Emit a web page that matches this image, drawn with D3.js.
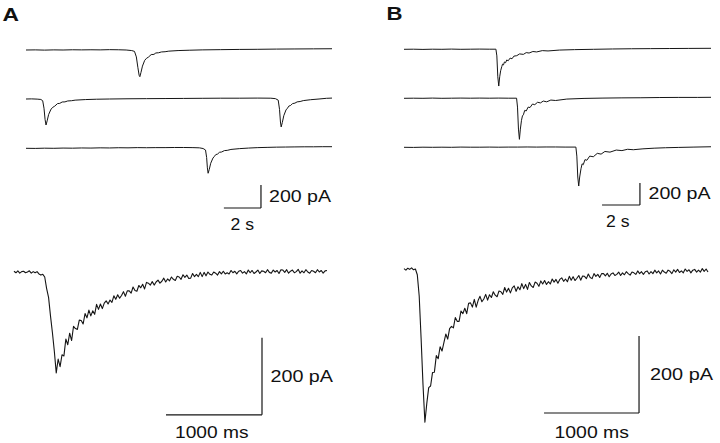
<!DOCTYPE html>
<html><head><meta charset="utf-8">
<script src="https://cdn.jsdelivr.net/npm/d3@7"></script>
<style>html,body{margin:0;padding:0;background:#fff;} svg{display:block;font-family:"Liberation Sans",Arial,sans-serif;}</style>
</head><body><svg id="c" width="720" height="443"></svg>
<script>
// ---------- DATA (time in s for top traces, ms for bottom traces; current in pA) ----------
const topA1 = [[0,0],[0.5,1],[1,-1],[1.5,1],[2,0],[2.5,2],[3,1],[3.5,2],[4,1],[4.5,3],[5,2],[5.4,0],[5.7,-5],[5.85,-12],[5.95,-60],[6.03,-150],[6.1,-220],[6.14,-232],[6.2,-195],[6.28,-140],[6.4,-90],[6.5,-72],[6.6,-62],[6.75,-40],[6.9,-38],[7.0,-26],[7.15,-24],[7.3,-17],[7.5,-15],[7.7,-10],[8.2,-5],[8.8,-2],[9.5,1],[10.5,3],[11.5,5],[12.5,6],[13.5,8],[14.5,9],[15.5,10],[16.5,11]];
const topA2 = [[0,0],[0.3,1],[0.6,-1],[0.8,-4],[0.9,-15],[0.97,-80],[1.03,-180],[1.08,-226],[1.14,-190],[1.22,-135],[1.35,-88],[1.45,-72],[1.55,-62],[1.7,-40],[1.82,-38],[1.95,-26],[2.1,-25],[2.25,-17],[2.45,-15],[2.65,-10],[3.2,-5],[3.8,-2],[4.5,0],[5.5,2],[6.5,3],[7.5,4],[8.5,5],[9.5,6],[10.5,7],[11.5,7],[12.5,8],[13.2,7],[13.45,3],[13.6,-10],[13.67,-90],[13.72,-200],[13.76,-243],[13.82,-205],[13.9,-145],[14.02,-95],[14.1,-80],[14.17,-62],[14.27,-56],[14.37,-40],[14.5,-36],[14.62,-25],[14.78,-22],[14.95,-14],[15.35,-6],[15.8,0],[16.2,6],[16.5,8]];
const topA3 = [[0,0],[0.5,-1],[1,1],[1.5,0],[2,2],[2.5,1],[3,3],[3.5,2],[4,4],[4.5,3],[5,5],[5.5,4],[6,6],[6.5,5],[7,6],[7.5,6],[8,7],[8.5,7],[9,6],[9.35,4],[9.55,-2],[9.68,-15],[9.74,-80],[9.78,-170],[9.82,-217],[9.88,-185],[9.96,-130],[10.08,-85],[10.15,-72],[10.23,-55],[10.33,-50],[10.43,-35],[10.55,-32],[10.7,-20],[10.85,-18],[11.05,-10],[11.5,-3],[12,2],[12.5,6],[13,8],[13.5,10],[14,11],[14.5,12],[15,13],[15.5,13],[16,14],[16.5,14]];

const topB1 = [[0,0],[0.5,1],[1,-1],[1.5,1],[2,0],[2.5,2],[3,0],[3.5,1],[4,2],[4.5,1],[4.85,1],[4.9,-60],[4.95,-250],[5.0,-334],[5.05,-250],[5.1,-195],[5.16,-157],[5.2,-135],[5.25,-142],[5.3,-115],[5.36,-122],[5.42,-97],[5.5,-104],[5.6,-80],[5.7,-86],[5.8,-62],[5.95,-58],[6.1,-42],[6.3,-46],[6.45,-30],[6.6,-34],[6.8,-20],[7.0,-24],[7.3,-12],[7.6,-15],[8.2,-7],[9,-3],[10,0],[11,3],[12,5],[13,6],[14,7],[15,8],[16.2,9]];
const topB2 = [[0,0],[0.5,1],[1,0],[1.5,2],[2,0],[2.5,1],[3,2],[3.5,1],[4,2],[4.5,1],[5,2],[5.5,1],[5.94,1],[5.99,-80],[6.04,-280],[6.09,-373],[6.14,-280],[6.2,-200],[6.25,-160],[6.3,-150],[6.37,-110],[6.45,-115],[6.55,-80],[6.65,-84],[6.78,-52],[6.9,-58],[7.05,-36],[7.2,-42],[7.35,-25],[7.53,-32],[7.75,-16],[8,-20],[8.59,-7],[9.5,-1],[10.5,2],[11.5,4],[12.5,5],[13.5,7],[14.5,8],[15.5,8],[16.2,9]];
const topB3 = [[0,0],[0.5,-1],[1,1],[1.5,0],[2,1],[2.5,0],[3,2],[3.5,1],[4,1],[4.5,2],[5,1],[5.5,2],[6,2],[6.5,3],[7,2],[7.5,3],[8,3],[8.5,2],[9.07,2],[9.12,-80],[9.17,-270],[9.22,-352],[9.27,-270],[9.34,-195],[9.4,-150],[9.46,-158],[9.55,-112],[9.65,-118],[9.8,-80],[9.99,-86],[10.2,-55],[10.4,-62],[10.6,-38],[10.87,-44],[11.2,-25],[11.5,-30],[11.8,-18],[12.1,-22],[12.61,-14],[13.2,-8],[13.8,-4],[14.5,-1],[15.3,2],[16.2,5]];

const bottomDt = 20; // ms per sample
const bottomA = [2,-2,3,-3,1,2,-2,0,3,-3,1,-2,1,-5,-8,-6,-13,-43,-66,-114,
 -157,-206,-262,-226,-246,-215,-218,-174,-189,-159,-178,-141,-147,-149,-125,-126,-135,-108,-119,-99,
 -114,-101,-110,-84,-97,-83,-95,-81,-75,-83,-73,-79,-62,-71,-59,-68,-61,-51,-63,-49,
 -49,-55,-39,-48,-50,-35,-41,-32,-44,-27,-29,-34,-25,-34,-26,-21,-29,-24,-16,-26,
 -18,-23,-13,-19,-22,-11,-13,-19,-7,-14,-8,-17,-16,-4,-12,-6,-12,-1,-12,-1,
 -10,0,-6,-8,0,-3,-8,1,-5,2,-5,-2,-5,4,-2,2,-5,2,4,-3,
 1,-5,5,-2,4,-4,0,5,-4,3,2,-2,6,-1,-3,5,0,4,-4,6,
 5,-1,6,-3,2,5,-2,1,7,-3,3,-2,6,0,-3,4,2,-2,6,0,
 4,-3,3,4];
const bottomB = [1,-3,2,-1,3,-2,0,-15,-70,-180,-300,-398,-349,-308,-304,-269,-268,-225,-233,-202,
 -213,-191,-169,-182,-155,-149,-153,-126,-136,-136,-109,-116,-102,-116,-89,-88,-99,-79,-99,-82,
 -71,-85,-78,-66,-81,-67,-74,-59,-68,-72,-57,-59,-66,-48,-60,-50,-62,-49,-44,-58,
 -46,-54,-38,-51,-40,-53,-35,-44,-48,-34,-37,-45,-31,-39,-30,-40,-33,-39,-26,-34,
 -27,-37,-27,-23,-32,-26,-33,-19,-29,-20,-30,-24,-17,-29,-18,-19,-25,-13,-22,-25,
 -12,-19,-14,-22,-12,-12,-18,-11,-20,-13,-10,-17,-14,-8,-17,-10,-15,-7,-12,-16,
 -8,-10,-14,-5,-12,-7,-14,-7,-5,-13,-7,-12,-3,-10,-5,-13,-3,-8,-11,-3,
 -6,-12,-2,-8,-1,-9,-5,-10,0,-6,-2,-10,-3,-1,-8,-3,-8,1,-6,0,
 -8];

const panelLabels = ["A", "B"];
const topBarTime = 2;        // s
const bottomBarTime = 1000;  // ms
const barCurrent = 200;      // pA
const topTimeLabel = "2 s";
const bottomTimeLabel = "1000 ms";
const currentLabel = "200 pA";

// ---------- DRAWING ----------
const svg = d3.select("#c");
const ink = "#151515";

function drawTrace(data, x, y, w) {
  svg.append("path").datum(data)
    .attr("fill", "none").attr("stroke", ink).attr("stroke-width", w || 1)
    .attr("stroke-linejoin", "round")
    .attr("d", d3.line().x(d => x(d[0])).y(d => y(d[1])));
}
function bar(x1, y1, x2, y2) {
  svg.append("line").attr("x1", x1).attr("y1", y1).attr("x2", x2).attr("y2", y2)
    .attr("stroke", ink).attr("stroke-width", 1.2);
}
function label(txt, x, y, size, len, bold) {
  svg.append("text").attr("x", x).attr("y", y).text(txt)
    .attr("font-size", size).attr("fill", "#111")
    .attr("font-weight", bold ? "bold" : "normal")
    .attr("textLength", len).attr("lengthAdjust", "spacingAndGlyphs");
}

// Panel A, top traces
const xTopA = d3.scaleLinear().domain([0, 16.5]).range([26, 332]);
const zeroA = [50, 99, 148.3];
[topA1, topA2, topA3].forEach((tr, i) => {
  const y = d3.scaleLinear().domain([0, -barCurrent]).range([zeroA[i], zeroA[i] + 23]);
  drawTrace(tr, xTopA, y, 1);
});
{
  const tEnd = 12.67;
  const yb = d3.scaleLinear().domain([0, barCurrent]).range([208, 185]);
  bar(xTopA(tEnd), yb(0), xTopA(tEnd), yb(barCurrent));
  bar(xTopA(tEnd - topBarTime), yb(0), xTopA(tEnd), yb(0));
  label(currentLabel, 269, 201.5, 16, 62, false);
  label(topTimeLabel, 230.5, 230, 16, 23.5, false);
}

// Panel B, top traces
const xTopB = d3.scaleLinear().domain([0, 16.2]).range([404, 711]);
const zeroB = [49.3, 98.3, 147.3];
[topB1, topB2, topB3].forEach((tr, i) => {
  const y = d3.scaleLinear().domain([0, -barCurrent]).range([zeroB[i], zeroB[i] + 22]);
  drawTrace(tr, xTopB, y, 1);
});
{
  const tEnd = 12.45;
  const yb = d3.scaleLinear().domain([0, barCurrent]).range([205, 183]);
  bar(xTopB(tEnd), yb(0), xTopB(tEnd), yb(barCurrent));
  bar(xTopB(tEnd - topBarTime), yb(0), xTopB(tEnd), yb(0));
  label(currentLabel, 648.5, 198.5, 16, 62, false);
  label(topTimeLabel, 606, 227, 16, 23.5, false);
}

// Panel A, bottom trace
{
  const x = d3.scaleLinear().domain([0, 3260]).range([14, 327]);
  const y = d3.scaleLinear().domain([0, -300]).range([272, 387.5]);
  drawTrace(bottomA.map((v, i) => [i * bottomDt, v]), x, y, 1.1);
  const tEnd = 2583, iBase = -371;
  bar(x(tEnd), y(iBase), x(tEnd), y(iBase + barCurrent));
  bar(x(tEnd - bottomBarTime), y(iBase), x(tEnd), y(iBase));
  label(currentLabel, 270.5, 381.5, 17, 62.5, false);
  label(bottomTimeLabel, 175, 437.5, 17, 73.5, false);
}

// Panel B, bottom trace
{
  const x = d3.scaleLinear().domain([0, 3200]).range([404, 708]);
  const y = d3.scaleLinear().domain([0, -300]).range([269, 384.5]);
  drawTrace(bottomB.map((v, i) => [i * bottomDt, v]), x, y, 1.1);
  const tEnd = 2474, iBase = -374;
  bar(x(tEnd), y(iBase), x(tEnd), y(iBase + barCurrent));
  bar(x(tEnd - bottomBarTime), y(iBase), x(tEnd), y(iBase));
  label(currentLabel, 650, 380, 17, 63, false);
  label(bottomTimeLabel, 554.5, 437.5, 17, 74.5, false);
}

// Panel letters
label(panelLabels[0], 2.5, 20.7, 19, 16.5, true);
label(panelLabels[1], 386.5, 19.5, 19, 16, true);
</script></body></html>
